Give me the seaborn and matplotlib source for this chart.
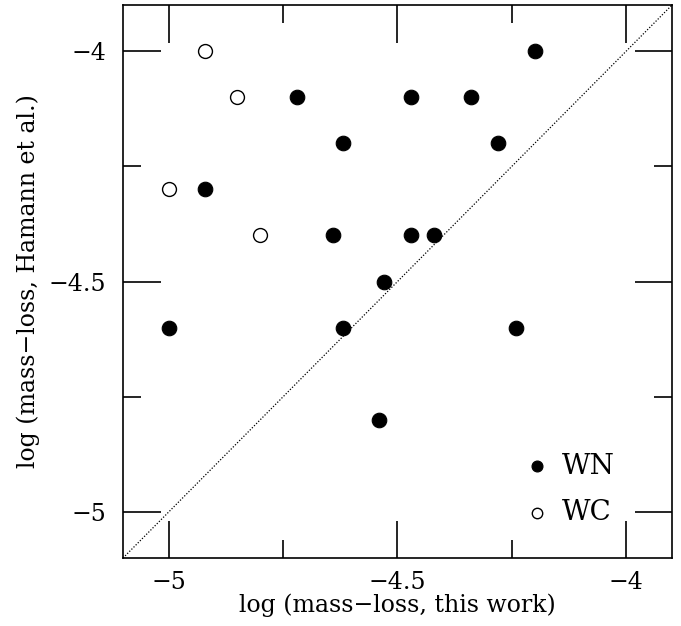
import numpy as np
import pandas as pd
import matplotlib
matplotlib.use('Agg')
import matplotlib.pyplot as plt
from matplotlib.ticker import MultipleLocator
import seaborn as sns

# WN stars (filled)
wn_this = [-4.20, -4.72, -4.47, -4.34, -4.62, -4.28, -4.92, -4.64, -4.47, -4.42, -4.53, -5.00, -4.62, -4.24, -4.54]
wn_hamann = [-4.0, -4.1, -4.1, -4.1, -4.2, -4.2, -4.3, -4.4, -4.4, -4.4, -4.5, -4.6, -4.6, -4.6, -4.8]
# WC stars (open)
wc_this = [-4.92, -4.85, -5.00, -4.80]
wc_hamann = [-4.0, -4.1, -4.3, -4.4]

df = pd.DataFrame({
    'this': wn_this + wc_this,
    'hamann': wn_hamann + wc_hamann,
    'type': ['WN'] * len(wn_this) + ['WC'] * len(wc_this),
})

sns.set_style('ticks')
plt.rcParams['font.family'] = ['DejaVu Serif']
plt.rcParams['text.color'] = 'black'
plt.rcParams['axes.labelcolor'] = 'black'
plt.rcParams['xtick.color'] = 'black'
plt.rcParams['ytick.color'] = 'black'

fig = plt.figure(figsize=(6.81, 6.26), dpi=100)
ax = fig.add_axes([0.1806, 0.1086, 0.8062, 0.8834])

ax.plot([-5.1, -3.9], [-5.1, -3.9], ls=(0, (1, 1.4)), color='black', lw=0.9)

sns.scatterplot(data=df[df['type'] == 'WN'], x='this', y='hamann', ax=ax,
                color='black', edgecolor='black', s=110, linewidth=0.8, label='WN')
sns.scatterplot(data=df[df['type'] == 'WC'], x='this', y='hamann', ax=ax,
                facecolor='white', edgecolor='black', s=100, linewidth=1.0, label='WC')

ax.set_xlim(-5.1, -3.9)
ax.set_ylim(-5.1, -3.9)
ax.xaxis.set_minor_locator(MultipleLocator(0.25))
ax.yaxis.set_minor_locator(MultipleLocator(0.25))
ax.tick_params(which='both', direction='in', top=True, right=True, color='black', width=1.2)
ax.tick_params(which='major', length=27, labelsize=17, labelcolor='black')
ax.tick_params(axis='x', which='major', pad=9)
ax.tick_params(axis='y', which='major', pad=12)
ax.tick_params(which='minor', length=13)
ax.set_xticks([-5, -4.5, -4])
ax.set_xticklabels(['\u22125', '\u22124.5', '\u22124'])
ax.set_yticks([-5, -4.5, -4])
ax.set_yticklabels(['\u22125', '\u22124.5', '\u22124'])
for s in ax.spines.values():
    s.set_linewidth(1.2)
    s.set_color('black')

ax.set_xlabel('log (mass\u2212loss, this work)', fontsize=17, labelpad=0, color='black')
ax.set_ylabel('log (mass\u2212loss, Hamann et al.)', fontsize=17, labelpad=6, color='black')

leg = ax.legend(loc='lower right', frameon=False, fontsize=20, markerscale=0.75,
                handlelength=1.2, handletextpad=0.3, labelspacing=0.7,
                borderaxespad=0.75, bbox_to_anchor=(0.955, 0.0))

fig.savefig('out.png', dpi=100)
